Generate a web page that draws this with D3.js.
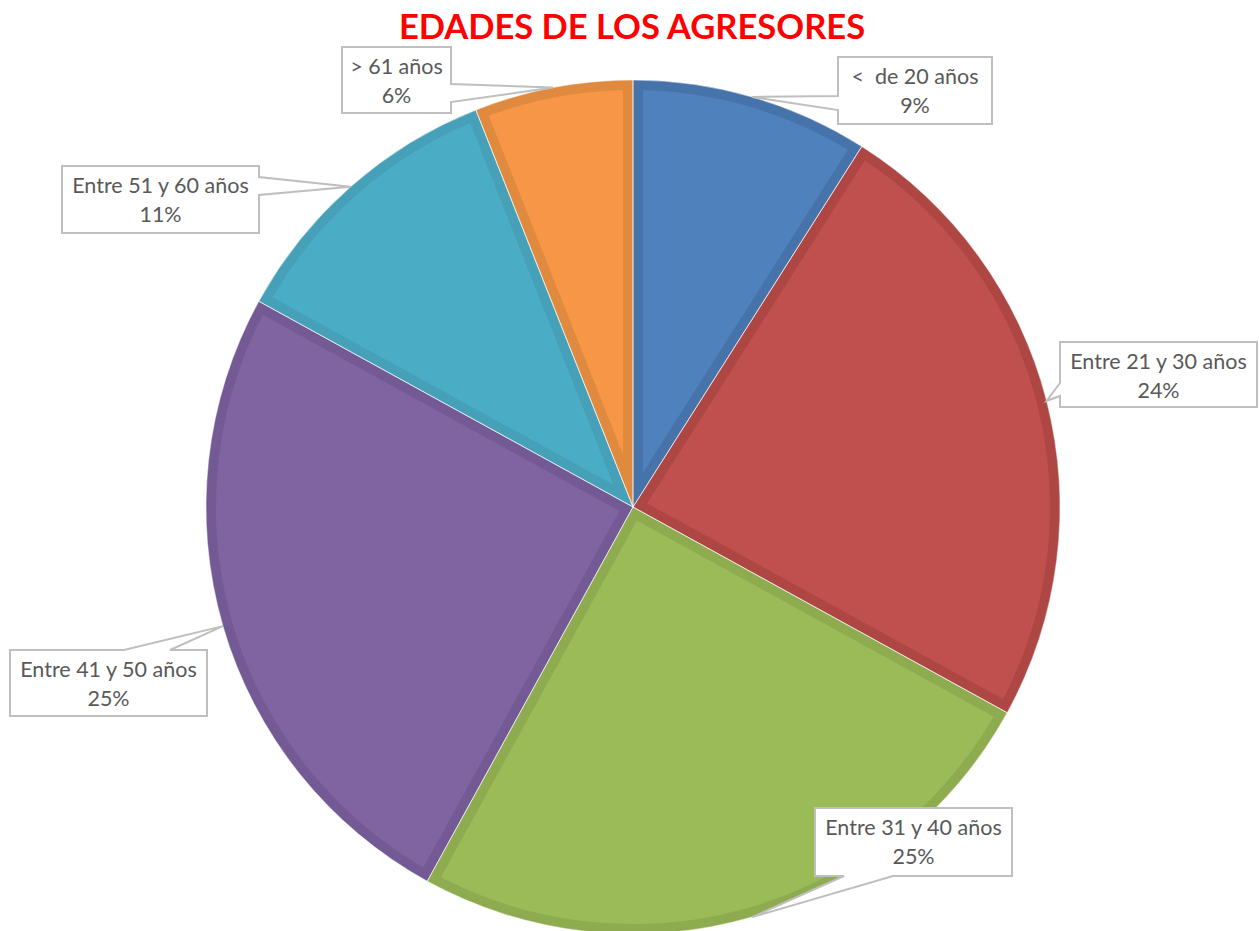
<!DOCTYPE html>
<html>
<head>
<meta charset="utf-8">
<script src="https://cdn.jsdelivr.net/npm/d3@7"></script>
<style>
  html, body { margin: 0; padding: 0; background: #fff; }
  svg { display: block; }
  text { white-space: pre; }
</style>
</head>
<body>
<svg id="chart" width="1259" height="931"></svg>
<script>
// Age groups of aggressors (share of cases, %)
const categories = ["<  de 20 años", "Entre 21 y 30 años", "Entre 31 y 40 años",
                    "Entre 41 y 50 años", "Entre 51 y 60 años", "> 61 años"];
const values = [9, 24, 25, 25, 11, 6];
const fillColors = ["#4F81BD", "#C0504D", "#9BBB59", "#8064A2", "#4BACC6", "#F79646"];
const edgeColors = ["#4673AA", "#AE4744", "#8EAC4F", "#745A95", "#45A0B8", "#E08A3F"];

// Callout boxes: [x0, y0, x1, y1], side the pointer leaves from, pointer base span
const callouts = [
  { box: [838, 57, 992, 124],   side: "left",   base: [96, 110] },
  { box: [1060, 342, 1257, 407], side: "left",  base: [383, 396] },
  { box: [815, 808, 1012, 876], side: "bottom", base: [844, 893] },
  { box: [10, 650, 207, 716],   side: "top",    base: [124, 170] },
  { box: [62, 166, 259, 233],   side: "right",  base: [177, 195] },
  { box: [342, 47, 451, 113],   side: "right",  base: [84, 102] }
];

const W = 1259, H = 931;
const cx = 633, cy = 507, R = 427;
const svg = d3.select("#chart");

// Title
svg.append("text")
  .attr("x", 632).attr("y", 39)
  .attr("text-anchor", "middle")
  .attr("font-family", "Lato, 'Open Sans', sans-serif")
  .attr("font-weight", "bold")
  .attr("font-size", 34.5)
  .attr("fill", "#FF0000")
  .text("EDADES DE LOS AGRESORES");

const pie = d3.pie().sort(null).value(d => d)(values);
const arc = d3.arc().innerRadius(0).outerRadius(R);

const g = svg.append("g").attr("transform", `translate(${cx},${cy})`);
const defs = svg.append("defs");

pie.forEach((d, i) => {
  defs.append("clipPath").attr("id", "slice" + i)
    .append("path").attr("d", arc(d));
});

// Slices: light fill with a darker inner border
g.selectAll("path.slice")
  .data(pie)
  .join("path")
  .attr("class", "slice")
  .attr("d", arc)
  .attr("clip-path", (d, i) => `url(#slice${i})`)
  .attr("fill", (d, i) => fillColors[i])
  .attr("stroke", (d, i) => edgeColors[i])
  .attr("stroke-width", 20)
  .attr("stroke-linejoin", "miter");

// Thin light separators between slices
g.selectAll("path.sep")
  .data(pie)
  .join("path")
  .attr("class", "sep")
  .attr("d", arc)
  .attr("fill", "none")
  .attr("stroke", "#ffffff")
  .attr("stroke-opacity", 0.55)
  .attr("stroke-width", 1);

// Callout labels pointing at each slice's outer edge
function calloutPath(c, tip) {
  const [x0, y0, x1, y1] = c.box;
  const [a, b] = c.base;
  const [tx, ty] = tip;
  let pts;
  if (c.side === "right") {
    pts = [[x0, y0], [x1, y0], [x1, a], [tx, ty], [x1, b], [x1, y1], [x0, y1]];
  } else if (c.side === "left") {
    pts = [[x0, y0], [x1, y0], [x1, y1], [x0, y1], [x0, b], [tx, ty], [x0, a]];
  } else if (c.side === "top") {
    pts = [[x0, y0], [a, y0], [tx, ty], [b, y0], [x1, y0], [x1, y1], [x0, y1]];
  } else {
    pts = [[x0, y0], [x1, y0], [x1, y1], [b, y1], [tx, ty], [a, y1], [x0, y1]];
  }
  return "M" + pts.map(p => p.join(",")).join("L") + "Z";
}

const labels = svg.append("g");
pie.forEach((d, i) => {
  const mid = (d.startAngle + d.endAngle) / 2;
  const tip = [cx + R * Math.sin(mid), cy - R * Math.cos(mid)];
  const c = callouts[i];
  labels.append("path")
    .attr("d", calloutPath(c, tip))
    .attr("fill", "#ffffff")
    .attr("stroke", "#BFBFBF")
    .attr("stroke-width", 2)
    .attr("stroke-linejoin", "miter");
  const mx = (c.box[0] + c.box[2]) / 2;
  const t = labels.append("text")
    .attr("text-anchor", "middle")
    .attr("font-family", "Lato, 'Open Sans', sans-serif")
    .attr("font-size", 21.5)
    .attr("fill", "#595959");
  t.append("tspan").attr("x", mx).attr("y", c.box[1] + 27).text(categories[i]);
  t.append("tspan").attr("x", mx).attr("y", c.box[1] + 56).text(d.data + "%");
});
</script>
</body>
</html>
